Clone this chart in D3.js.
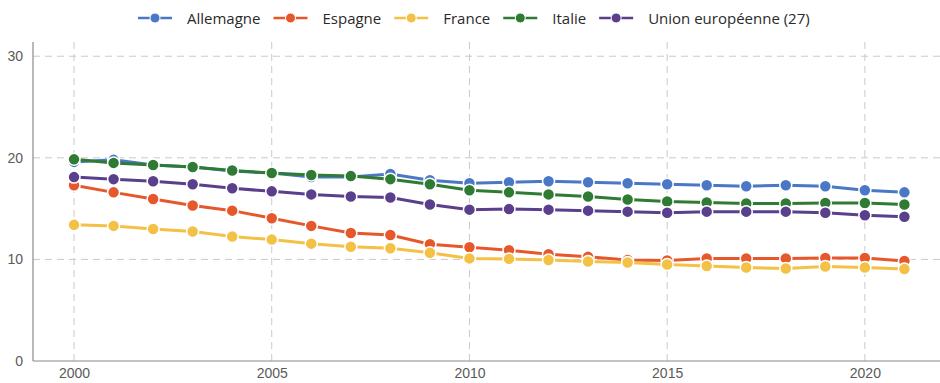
<html>
<head>
<meta charset="UTF-8"/>
<script src="https://d3js.org/d3.v7.min.js"></script>
<style>
body{ margin:0; background:#fff; }
svg{ font-family: "Open Sans", Lato, sans-serif; }
.grid line{ stroke:#cacaca; stroke-dasharray:7,5; }
.axis text{ fill:#5a5a5a; font-size:14px; }
</style>
</head>
<body>
<svg id="chart" width="940" height="383"></svg>
<script>
'use strict';
var years = d3.range(2000, 2022);
var seriesNames = ['Allemagne', 'Espagne', 'France', 'Italie', 'Union européenne (27)'];
var colors = ['#4a78c6', '#e6582b', '#f3c146', '#2f7b33', '#5a3f8c'];

var allemagne = [19.6, 19.8, 19.3, 19.1, 18.7, 18.5, 18.1, 18.1, 18.4, 17.8, 17.5, 17.6, 17.7, 17.6, 17.5, 17.4, 17.3, 17.2, 17.3, 17.2, 16.8, 16.6];
var espagne   = [17.3, 16.6, 15.95, 15.3, 14.8, 14.05, 13.3, 12.6, 12.4, 11.5, 11.2, 10.9, 10.5, 10.25, 9.95, 9.9, 10.1, 10.1, 10.1, 10.15, 10.15, 9.85];
var france    = [13.4, 13.3, 13.0, 12.75, 12.25, 11.95, 11.55, 11.25, 11.1, 10.65, 10.1, 10.05, 9.95, 9.8, 9.7, 9.5, 9.35, 9.2, 9.1, 9.3, 9.2, 9.05];
var italie    = [19.85, 19.5, 19.3, 19.1, 18.75, 18.5, 18.3, 18.2, 17.9, 17.4, 16.8, 16.6, 16.4, 16.2, 15.9, 15.7, 15.6, 15.5, 15.5, 15.55, 15.55, 15.4];
var ue27      = [18.1, 17.9, 17.7, 17.4, 17.0, 16.7, 16.4, 16.2, 16.1, 15.4, 14.9, 14.95, 14.9, 14.8, 14.7, 14.6, 14.7, 14.7, 14.7, 14.6, 14.35, 14.2];
var yTicks = [0, 10, 20, 30];
var xTicks = [2000, 2005, 2010, 2015, 2020];

var series = [allemagne, espagne, france, italie, ue27];

var svg = d3.select('#chart');
var mLeft = 33, mRight = 940, mTop = 42, mBottom = 361;

var sx = d3.scaleLinear().domain([1999, 2021.9]).range([mLeft + 1.5, mRight]);
var sy = d3.scaleLinear().domain([0, 31.4]).range([mBottom, mTop]);

// grid
var grid = svg.append('g').attr('class', 'grid');
grid.selectAll('.h').data(yTicks.filter(function(d){ return d > 0; })).enter()
    .append('line')
    .attr('x1', mLeft).attr('x2', mRight)
    .attr('y1', function(d){ return sy(d); })
    .attr('y2', function(d){ return sy(d); });
grid.selectAll('.v').data(xTicks).enter()
    .append('line')
    .attr('x1', function(d){ return sx(d); })
    .attr('x2', function(d){ return sx(d); })
    .attr('y1', mTop).attr('y2', mBottom);

// axes
var yAxis = d3.axisLeft(sy).tickValues(yTicks).tickSize(0).tickPadding(10);
var xAxis = d3.axisBottom(sx).tickValues(xTicks).tickFormat(d3.format('d')).tickSize(0).tickPadding(7);

var gy = svg.append('g').attr('class', 'axis').attr('transform', 'translate(' + mLeft + ',0)').call(yAxis);
gy.select('.domain').remove();
var gx = svg.append('g').attr('class', 'axis').attr('transform', 'translate(0,' + mBottom + ')').call(xAxis);
gx.select('.domain').remove();

svg.append('line').attr('x1', mLeft).attr('x2', mLeft).attr('y1', mTop).attr('y2', mBottom)
    .attr('stroke', '#8a8a8a').attr('stroke-width', 1.2);
svg.append('line').attr('x1', mLeft).attr('x2', mRight).attr('y1', mBottom).attr('y2', mBottom)
    .attr('stroke', '#8a8a8a').attr('stroke-width', 1.2);

// lines
var line = d3.line()
    .x(function(d, i){ return sx(years[i]); })
    .y(function(d){ return sy(d); });

series.forEach(function(s, k){
    var g = svg.append('g');
    g.append('path').datum(s)
        .attr('d', line)
        .attr('fill', 'none')
        .attr('stroke', colors[k])
        .attr('stroke-width', 3);
    g.selectAll('circle').data(s).enter()
        .append('circle')
        .attr('cx', function(d, i){ return sx(years[i]); })
        .attr('cy', function(d){ return sy(d); })
        .attr('r', 6)
        .attr('fill', colors[k])
        .attr('stroke', '#fff')
        .attr('stroke-width', 1.5);
});

// legend
var legend = svg.append('g').attr('transform', 'translate(0,18)');
var lx = 138;
seriesNames.forEach(function(name, k){
    var it = legend.append('g').attr('transform', 'translate(' + lx + ',0)');
    it.append('line').attr('x1', 0).attr('x2', 34).attr('y1', 0).attr('y2', 0)
        .attr('stroke', colors[k]).attr('stroke-width', 2.5);
    it.append('circle').attr('cx', 17).attr('cy', 0).attr('r', 5)
        .attr('fill', colors[k]).attr('stroke', '#fff').attr('stroke-width', 1);
    var t = it.append('text').attr('x', 49).attr('y', 5.5)
        .attr('font-size', '15px').attr('fill', '#2a2a2a').text(name);
    lx += 49 + t.node().getComputedTextLength() + 13;
});
</script>
</body>
</html>
